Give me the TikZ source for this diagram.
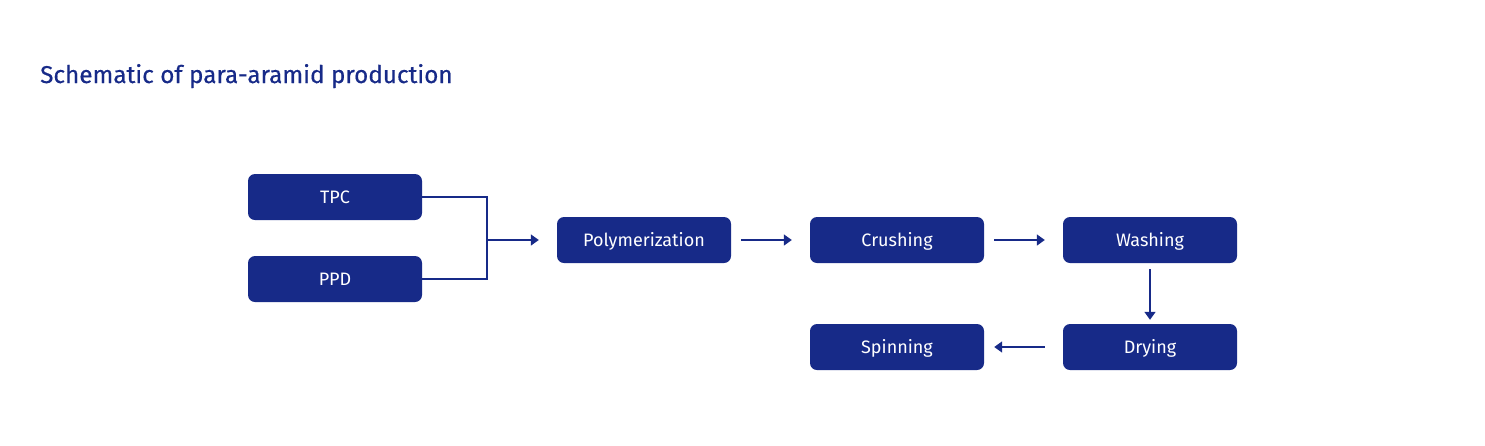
\documentclass[tikz,border=0pt]{standalone}
\usepackage{fontspec}
\setmainfont{Fira Sans}
\newfontfamily\titlefont[FakeBold=0.5]{Fira Sans}
\usepackage{tikz}
\usetikzlibrary{arrows.meta,calc}

\definecolor{aramidblue}{HTML}{172A88}

\tikzset{
  stage/.style = {fill = aramidblue, rounded corners = 7pt,
    minimum width = 174pt, minimum height = 46pt,
    text height = 12.4pt, text depth = 0pt,
    text = white, font = \fontsize{18pt}{20pt}\selectfont},
  flow/.style = {draw = aramidblue, line width = 1.6pt,
    -{Triangle[length = 8pt, width = 11pt]}}
}

\begin{document}
\begin{tikzpicture}[x = 1pt, y = -1pt]
  \useasboundingbox (0,0) rectangle (1485,445);

  % title
  \node[anchor = base west, inner sep = 0pt, text = aramidblue,
    font = \titlefont\fontsize{24.3pt}{26pt}\selectfont] (title) at (40,83)
    {Schematic of para-aramid production};

  % raw materials
  \node[stage] (tpc) at (335,197) {TPC};
  \node[stage] (ppd) at (335,279) {PPD};

  % process stages
  \node[stage] (poly)  at (644,240)  {Polymerization};
  \node[stage] (crush) at (897,240)  {Crushing};
  \node[stage] (wash)  at (1150,240) {Washing};
  \node[stage] (dry)   at (1150,347) {Drying};
  \node[stage] (spin)  at (897,347)  {Spinning};

  % joining the two feeds
  \coordinate (join) at (487,240);
  \draw[aramidblue, line width = 1.6pt] (tpc.east) -| (join)
    |- (ppd.east);
  \draw[flow, shorten >= 18pt] (join) -- (poly.west);

  % connectors between stages
  \draw[flow, shorten <= 10pt, shorten >= 18pt] (poly.east) -- (crush.west);
  \draw[flow, shorten <= 10pt, shorten >= 18pt] (crush.east) -- (wash.west);
  \draw[flow, shorten <= 6pt, shorten >= 4pt] (wash.south) -- (dry.north);
  \draw[flow, shorten <= 18pt, shorten >= 10pt] (dry.west) -- (spin.east);
\end{tikzpicture}
\end{document}
